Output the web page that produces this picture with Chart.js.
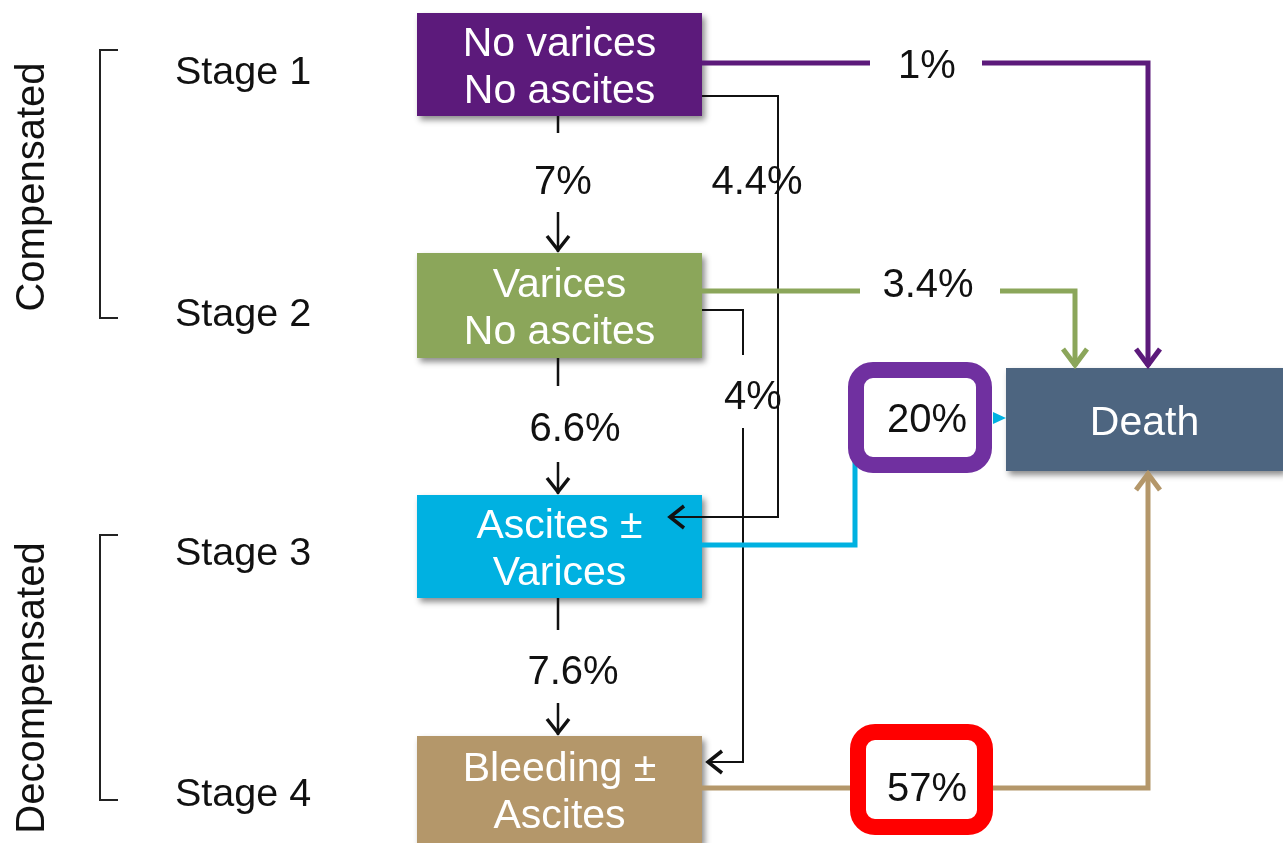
<!DOCTYPE html>
<html lang="en">
<head>
  <meta charset="utf-8" />
  <title>Cirrhosis stages</title>
  <script src="https://cdn.jsdelivr.net/npm/chart.js"></script>
  <style>
    html, body { margin: 0; padding: 0; background: #fff; }
    #wrap { width: 1283px; height: 843px; position: relative; }
  </style>
</head>
<body>
  <div id="wrap"><canvas id="stageChart"></canvas></div>

  <script>
    // ---- data ----
    const phaseNames = ['Compensated', 'Decompensated'];
    const stageNames = ['Stage 1', 'Stage 2', 'Stage 3', 'Stage 4'];
    const stateNames = [['No varices', 'No ascites'], ['Varices', 'No ascites'], ['Ascites \u00b1', 'Varices'], ['Bleeding \u00b1', 'Ascites']];
    const deathName = 'Death';
    const nextStageRates = ['7%', '6.6%', '7.6%'];   // stage n -> n+1
    const skipStageRates = ['4.4%', '4%'];           // stage 1 -> 3, stage 2 -> 4
    const deathRates = ['1%', '3.4%', '20%', '57%']; // stage n -> death

    // ---- layout (plot units, y grows downward) ----
    const stateBoxes = [[417, 13, 702, 116], [417, 253, 702, 358], [417, 495, 702, 598], [417, 736, 702, 843]];
    const deathBox = [1006, 368, 1283, 471];
    const stateColors = ['#5c1a7b', '#8ba65a', '#00b1e1', '#b4976a'];
    const deathColor = '#4d6580';
    const nextLabelPos = [[563, 183], [575, 430], [573, 673]];
    const skipLabelPos = [[757, 183], [753, 398]];
    const deathLabelPos = [[927, 67], [928, 286], [927, 421], [927, 790]];
    const highlightRects = [null, null, [856, 370, 984, 465, '#7030a0'], [858, 732, 985, 827, '#ff0000']];
    const stagePos = [[175, 73], [175, 315], [175, 554], [175, 795]];
    const phasePos = [[33, 187], [33, 688]];

    const gap = (x) => ({ x: x, y: null });
    const polyline = (pts, color, width) => ({
      type: 'line',
      data: pts.map(p => p.y === null ? p : { x: p[0], y: p[1] }),
      borderColor: color, borderWidth: width, pointRadius: 0,
      borderJoinStyle: 'miter', borderCapStyle: 'butt', tension: 0,
      spanGaps: false, fill: false, clip: false
    });

    const datasets = [
      // brackets
      polyline([[118, 50], [100, 50], [100, 318], [118, 318]], '#222', 2),
      polyline([[118, 535], [100, 535], [100, 800], [118, 800]], '#222', 2),
      // to death
      polyline([[702, 63], [870, 63], gap(926), [982, 63], [1148, 63], [1148, 366]], stateColors[0], 5),
      polyline([[702, 291], [860, 291], gap(930), [1000, 291], [1075, 291], [1075, 366]], stateColors[1], 5),
      polyline([[702, 545], [855, 545], [855, 450]], stateColors[2], 5),
      polyline([[702, 788], [1148, 788], [1148, 473]], stateColors[3], 5),
      // skip-stage arrows
      polyline([[702, 96], [778, 96], [778, 517], [672, 517]], '#111', 2),
      polyline([[702, 310], [743, 310], [743, 355], gap(743), [743, 428], [743, 762], [710, 762]], '#111', 2),
      // next-stage stubs and arrows
      polyline([[558, 116], [558, 133], gap(558), [558, 212], [558, 252]], '#111', 2.5),
      polyline([[558, 358], [558, 386], gap(558), [558, 462], [558, 494]], '#111', 2.5),
      polyline([[558, 598], [558, 630], gap(558), [558, 703], [558, 735]], '#111', 2.5)
    ];

    const FONT = '"Liberation Sans", Arial, sans-serif';

    function chevron(ctx, x, y, dx, dy, len, half, color, width) {
      // tip at (x, y), pointing along (dx, dy)
      const px = -dy, py = dx;
      ctx.save();
      ctx.strokeStyle = color;
      ctx.lineWidth = width;
      ctx.lineJoin = 'miter';
      ctx.beginPath();
      ctx.moveTo(x - dx * len + px * half, y - dy * len + py * half);
      ctx.lineTo(x, y);
      ctx.lineTo(x - dx * len - px * half, y - dy * len - py * half);
      ctx.stroke();
      ctx.restore();
    }

    const diagramPlugin = {
      id: 'diagram',
      beforeDatasetsDraw(chart) {
        const { ctx, scales: { x, y } } = chart;
        const box = (b, color) => {
          const x0 = x.getPixelForValue(b[0]), y0 = y.getPixelForValue(b[1]);
          const x1 = x.getPixelForValue(b[2]), y1 = y.getPixelForValue(b[3]);
          ctx.save();
          ctx.shadowColor = 'rgba(0,0,0,0.45)';
          ctx.shadowBlur = 6;
          ctx.shadowOffsetX = 3;
          ctx.shadowOffsetY = 4;
          ctx.fillStyle = color;
          ctx.fillRect(x0, y0, x1 - x0, y1 - y0);
          ctx.restore();
        };
        stateBoxes.forEach((b, i) => box(b, stateColors[i]));
        box(deathBox, deathColor);
      },
      afterDatasetsDraw(chart) {
        const { ctx, scales: { x, y } } = chart;
        const X = v => x.getPixelForValue(v), Y = v => y.getPixelForValue(v);

        // arrow heads
        chevron(ctx, X(558), Y(250), 0, 1, 14, 11, '#111', 3.5);
        chevron(ctx, X(558), Y(492), 0, 1, 14, 11, '#111', 3.5);
        chevron(ctx, X(558), Y(733), 0, 1, 14, 11, '#111', 3.5);
        chevron(ctx, X(670), Y(517), -1, 0, 14, 11, '#111', 3.5);
        chevron(ctx, X(708), Y(762), -1, 0, 14, 11, '#111', 3.5);
        chevron(ctx, X(1148), Y(365), 0, 1, 16, 12, stateColors[0], 5);
        chevron(ctx, X(1075), Y(365), 0, 1, 16, 12, stateColors[1], 5);
        chevron(ctx, X(1148), Y(474), 0, -1, 16, 12, stateColors[3], 5);
        // small cyan pointer into death
        ctx.save();
        ctx.fillStyle = stateColors[2];
        ctx.beginPath();
        ctx.moveTo(X(993), Y(412));
        ctx.lineTo(X(1006), Y(418));
        ctx.lineTo(X(993), Y(424));
        ctx.closePath();
        ctx.fill();
        ctx.restore();

        // highlight frames
        highlightRects.forEach(r => {
          if (!r) return;
          ctx.save();
          ctx.fillStyle = '#fff';
          ctx.strokeStyle = r[4];
          ctx.lineWidth = 16;
          ctx.beginPath();
          ctx.roundRect(X(r[0]), Y(r[1]), X(r[2]) - X(r[0]), Y(r[3]) - Y(r[1]), 17);
          ctx.fill();
          ctx.stroke();
          ctx.restore();
        });

        ctx.save();
        ctx.textBaseline = 'middle';
        ctx.textAlign = 'center';
        // box texts
        ctx.fillStyle = '#fff';
        ctx.font = '41px ' + FONT;
        stateNames.forEach((lines, i) => {
          const b = stateBoxes[i];
          const cx = (b[0] + b[2]) / 2;
          const cy = i === 3 ? 790 : (b[1] + b[3]) / 2;
          ctx.fillText(lines[0], X(cx), Y(cy - 20));
          ctx.fillText(lines[1], X(cx), Y(cy + 27));
        });
        ctx.fillText(deathName, X((deathBox[0] + deathBox[2]) / 2), Y(424));

        // rates
        ctx.fillStyle = '#111';
        ctx.font = '40px ' + FONT;
        nextStageRates.forEach((t, i) => ctx.fillText(t, X(nextLabelPos[i][0]), Y(nextLabelPos[i][1])));
        skipStageRates.forEach((t, i) => ctx.fillText(t, X(skipLabelPos[i][0]), Y(skipLabelPos[i][1])));
        deathRates.forEach((t, i) => ctx.fillText(t, X(deathLabelPos[i][0]), Y(deathLabelPos[i][1])));

        // stage labels
        ctx.textAlign = 'left';
        ctx.font = '39.5px ' + FONT;
        stageNames.forEach((t, i) => ctx.fillText(t, X(stagePos[i][0]), Y(stagePos[i][1])));

        // phase labels (rotated)
        ctx.textAlign = 'center';
        ctx.font = '40px ' + FONT;
        phaseNames.forEach((t, i) => {
          ctx.save();
          ctx.translate(X(phasePos[i][0]), Y(phasePos[i][1]));
          ctx.rotate(-Math.PI / 2);
          ctx.fillText(t, 0, 0);
          ctx.restore();
        });
        ctx.restore();
      }
    };

    new Chart(document.getElementById('stageChart'), {
      type: 'scatter',
      data: { datasets: datasets },
      options: {
        responsive: true,
        maintainAspectRatio: false,
        animation: false,
        layout: { padding: 0 },
        plugins: { legend: { display: false }, tooltip: { enabled: false } },
        scales: {
          x: { type: 'linear', min: 0, max: 1283, display: false },
          y: { type: 'linear', min: 0, max: 843, reverse: true, display: false }
        }
      },
      plugins: [diagramPlugin]
    });
  </script>
</body>
</html>
